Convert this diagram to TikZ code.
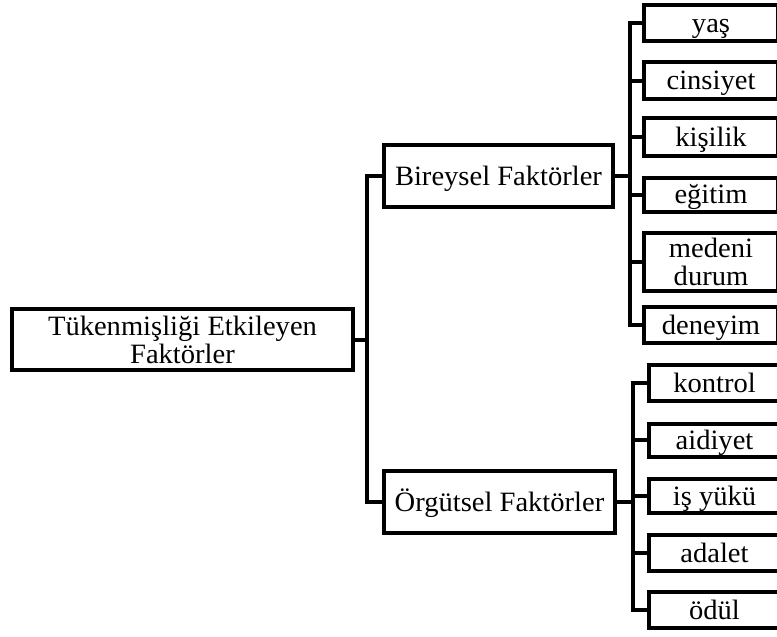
\documentclass[tikz,border=0pt]{standalone}
\usepackage{fontspec}
\setmainfont{Liberation Serif}[FakeStretch=1.02]
\begin{document}
\begin{tikzpicture}[x=1pt,y=-1pt,
  box/.style={draw, line width=4pt, inner sep=0pt, align=center,
    font=\fontsize{28}{28}\selectfont},
  one/.style={text height=24pt, text depth=6pt},
  conn/.style={line width=4pt}]
\useasboundingbox (0,0) rectangle (777,637);
% root
\node[box, minimum width=341pt, minimum height=61pt] (root) at (182.5,339.5) {Tükenmişliği Etkileyen\\Faktörler};
% middle level
\node[box, one, minimum width=229pt, minimum height=62pt] (bir) at (498.5,176) {Bireysel Faktörler};
\node[box, one, minimum width=231pt, minimum height=62pt] (org) at (499.5,502) {Örgütsel Faktörler};
% Bireysel children
\tikzset{bc/.style={box, minimum width=134pt}, oc/.style={box, one, minimum width=131pt}}
\node[bc, one, minimum height=36pt] (yas) at (711,23) {yaş};
\node[bc, one, minimum height=37pt] (cin) at (711,80.5) {cinsiyet};
\node[bc, one, minimum height=38pt] (kis) at (711,137) {kişilik};
\node[bc, one, minimum height=34pt] (egi) at (711,194.5) {eğitim};
\node[bc, minimum height=58pt] (med) at (711,262) {medeni\\durum};
\node[bc, one, minimum height=36pt] (den) at (711,325) {deneyim};
% Orgutsel children
\node[oc, minimum height=36pt] (kon) at (714.5,383) {kontrol};
\node[oc, minimum height=33pt] (aid) at (714.5,440) {aidiyet};
\node[oc, minimum height=34pt] (isy) at (714.5,496) {iş yükü};
\node[oc, minimum height=36pt] (ada) at (714.5,553) {adalet};
\node[oc, minimum height=36pt] (odu) at (714.5,610) {ödül};
% bus coordinates
\coordinate (bus0) at (367,0);
\coordinate (bus1) at (630,0);
\coordinate (bus2) at (633,0);
% connectors
\draw[conn] (root.east) -- (root.east -| bus0);
\draw[conn] (bir.west) -- (bir.west -| bus0) |- (org.west);
\foreach \c in {yas,cin,kis,egi,med,den}
  \draw[conn] (bir.east) -- (bir.east -| bus1) |- (\c.west);
\foreach \c in {kon,aid,isy,ada,odu}
  \draw[conn] (org.east) -- (org.east -| bus2) |- (\c.west);
\end{tikzpicture}
\end{document}
